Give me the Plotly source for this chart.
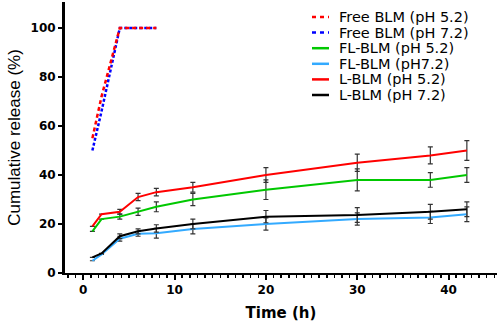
import plotly.graph_objects as go

# Data
t_free = [1, 2, 4, 6, 8]
free_52 = [55, 72, 100, 100, 100]
free_72 = [50, 66, 100, 100, 100]

t = [1, 2, 4, 6, 8, 12, 20, 30, 38, 42]
fl_52 = [17, 22, 23, 25, 27, 30, 34, 38, 38, 40]
fl_52_err = [0, 0, 1, 1.5, 2, 2.5, 4, 4.5, 3, 3]
fl_72 = [5, 7.6, 14, 16, 16.2, 18, 20, 22, 22.7, 24]
fl_72_err = [0, 0, 1, 1, 2, 2, 2.5, 2.5, 2.5, 3]
l_52 = [19, 24, 25, 31, 33, 35, 40, 45, 48, 50]
l_52_err = [0, 0, 1, 1.5, 1.5, 2, 3, 3.5, 3.5, 4]
l_72 = [6.4, 8, 15, 17, 18.2, 20, 23, 23.7, 25, 26]
l_72_err = [0, 0, 1, 1, 1.5, 2, 2.5, 3, 3, 3]

x_ticks = [0, 10, 20, 30, 40]
y_ticks = [0, 20, 40, 60, 80, 100]

FONT = "DejaVu Sans"
ERR = "#333333"

W, H = 498, 322
ML, MR, MT, MB = 65, 1, 2, 49
PW, PH = W - ML - MR, H - MT - MB

fig = go.Figure()

fig.add_trace(go.Scatter(x=t_free, y=free_72, mode="lines", name="Free BLM (pH 7.2)",
                         line=dict(color="#0000ff", width=2.5, dash="3px,2px")))
fig.add_trace(go.Scatter(x=t_free, y=free_52, mode="lines", name="Free BLM (pH 5.2)",
                         line=dict(color="#ff0000", width=2.5, dash="4px,3px")))

def err(a):
    return dict(type="data", array=a, visible=True, color=ERR, thickness=1.2, width=2.5)

fig.add_trace(go.Scatter(x=t, y=fl_52, mode="lines", name="FL-BLM (pH 5.2)",
                         line=dict(color="#00c800", width=2), error_y=err(fl_52_err)))
fig.add_trace(go.Scatter(x=t, y=fl_72, mode="lines", name="FL-BLM (pH7.2)",
                         line=dict(color="#33aaff", width=2), error_y=err(fl_72_err)))
fig.add_trace(go.Scatter(x=t, y=l_52, mode="lines", name="L-BLM (pH 5.2)",
                         line=dict(color="#ff0000", width=2), error_y=err(l_52_err)))
fig.add_trace(go.Scatter(x=t, y=l_72, mode="lines", name="L-BLM (pH 7.2)",
                         line=dict(color="#000000", width=2), error_y=err(l_72_err)))

# compact legend (drawn in paper coordinates)
legend_items = [fig.data[1], fig.data[0]] + list(fig.data[2:])
row0, row_gap = 17, 15.6
for i, tr in enumerate(legend_items):
    ypix = row0 + i * row_gap
    yp = (H - MB - ypix) / PH
    x0 = (312 - ML) / PW
    x1 = (329 - ML) / PW
    xt = (337 - ML) / PW
    dashed = tr.line.dash not in (None, "solid")
    fig.add_shape(type="line", xref="paper", yref="paper", x0=x0, x1=x1, y0=yp, y1=yp,
                  line=dict(color=tr.line.color, width=2.5, dash="4px,4px" if dashed else "solid"))
    fig.add_annotation(xref="paper", yref="paper", x=xt, y=yp, xanchor="left", yanchor="middle",
                       text=tr.name, showarrow=False,
                       font=dict(family=FONT, size=14.5, color="black"))

fig.update_layout(
    width=W, height=H,
    margin=dict(l=ML, r=MR, t=MT, b=MB),
    paper_bgcolor="white", plot_bgcolor="white",
    font=dict(family=FONT, color="black"),
    showlegend=False,
    hovermode=False,
    xaxis=dict(range=[-2, 45.3], tickvals=x_ticks, ticktext=[str(v) for v in x_ticks],
               automargin=False,
               showgrid=False, zeroline=False, showline=True, linecolor="black", linewidth=2,
               ticks="outside", ticklen=5, tickwidth=2, tickcolor="black",
               tickfont=dict(family=FONT, size=12, color="black", weight="bold"),
               minor=dict(dtick=10/12, tick0=0, ticks="outside", ticklen=3, tickwidth=1.5, tickcolor="black"),
               title=dict(text="<b>Time (h)</b>", font=dict(family=FONT, size=15, color="black"), standoff=12)),
    yaxis=dict(range=[0, 110.6], tickvals=y_ticks, ticktext=[str(v) for v in y_ticks],
               automargin=False,
               showgrid=False, zeroline=False, showline=True, linecolor="black", linewidth=3,
               ticks="outside", ticklen=4, tickwidth=2, tickcolor="black",
               tickfont=dict(family=FONT, size=12, color="black", weight="bold"),
               title=dict(text="Cumulative release (%)", font=dict(family="Liberation Sans", size=17, color="black"), standoff=6)),
)

fig.write_html("out.html", config={"displayModeBar": False, "staticPlot": True},
               post_script="document.body.style.margin='0';document.body.style.overflow='hidden';")
